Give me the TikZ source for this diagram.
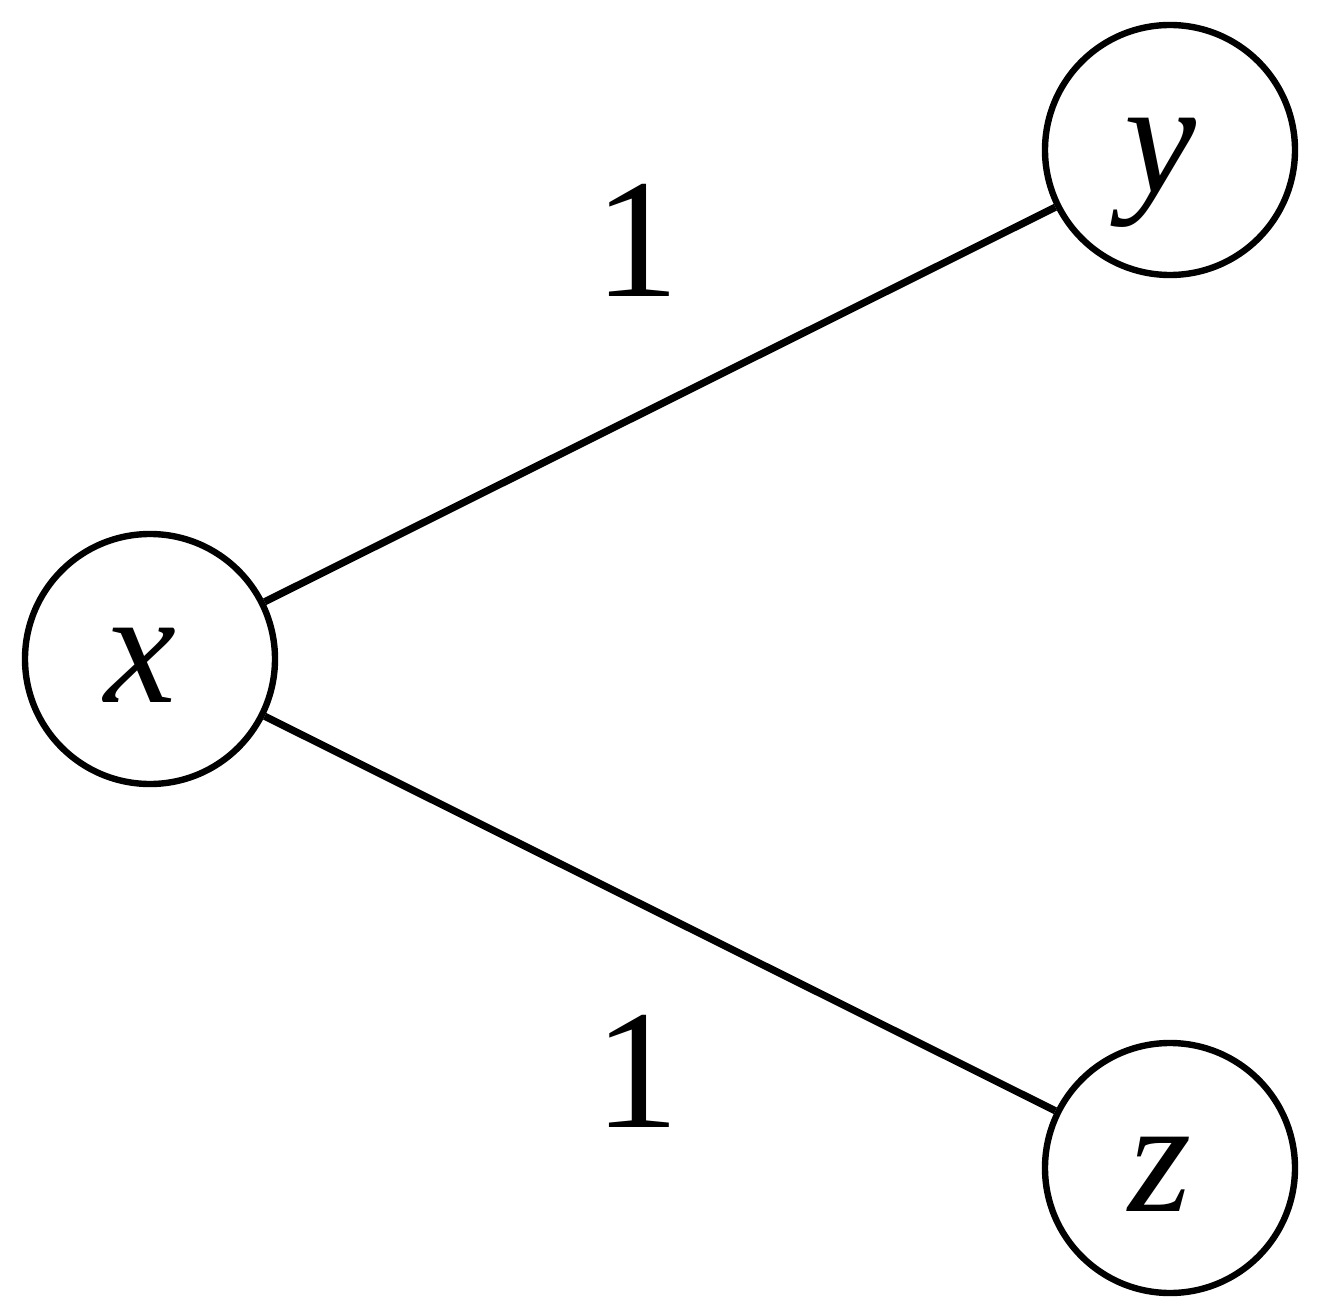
\documentclass[tikz,border=0pt]{standalone}
\usepackage{fontspec}
\setmainfont{Liberation Serif}
\begin{document}
\begin{tikzpicture}[x=0.5pt,y=-0.5pt,
  vert/.style={circle,draw,line width=3.2pt,minimum size=125pt,inner sep=0pt},
  vname/.style={inner sep=0pt,anchor=base,font=\fontsize{81}{81}\selectfont\itshape},
  edge/.style={line width=3.6pt},
  wlabel/.style={inner sep=0pt,anchor=base,font=\fontsize{85}{85}\selectfont}]
\useasboundingbox (0,0) rectangle (1328,1316);
\node[vert] (x) at (150,659) {};
\node[vert] (y) at (1170,150) {};
\node[vert] (z) at (1170,1168) {};
\node[vname] (xt) at (140,702) {x};
\node[vname] (yt) at (1160,193) {y};
\node[vname] (zt) at (1160,1211) {z};
\draw[edge] (x) -- (y);
\draw[edge] (x) -- (z);
\node[wlabel] (l1) at (637,297) {1};
\node[wlabel] (l2) at (637,1127) {1};
\end{tikzpicture}
\end{document}
